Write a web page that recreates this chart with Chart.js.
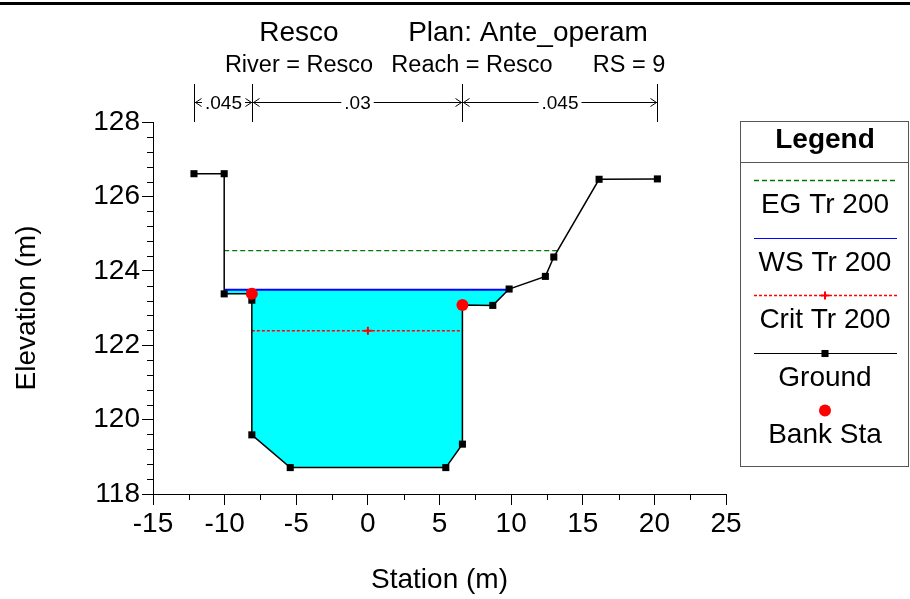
<!DOCTYPE html>
<html>
<head>
<meta charset="utf-8">
<script src="https://cdn.jsdelivr.net/npm/chart.js@4/dist/chart.umd.min.js"></script>
<style>
  html, body { margin: 0; padding: 0; background: #fff; }
  canvas { display: block; }
</style>
</head>
<body>
<canvas id="xs" width="910" height="599"></canvas>
<script>
// cross section
const groundSta  = [-12.14, -10.03, -10.03, -8.1, -8.1, -8.1, -5.42, 5.44, 6.6, 6.6, 8.72, 9.86, 12.39, 12.98, 16.14, 20.21];
const groundElev = [126.61, 126.61, 123.38, 123.38, 123.21, 119.59, 118.71, 118.71, 119.34, 123.08, 123.07, 123.51, 123.85, 124.37, 126.46, 126.47];
const bankSta  = [-8.1, 6.6];
const bankElev = [123.38, 123.08];
const egElev = 124.54;   // EG Tr 200
const wsElev = 123.49;   // WS Tr 200
const critElev = 122.39; // Crit Tr 200
const critMarkSta = 0;
const nBreaks = [-12.14, -8.1, 6.6, 20.21];
const nValues = ['.045', '.03', '.045'];
const xRange = [-15, 25];
const yRange = [118, 128];

const FONT = "'Liberation Sans', Arial, sans-serif";
Chart.defaults.font.family = FONT;
Chart.defaults.color = '#000';

// where a water level meets the ground on both sides of the thalweg
function waterEdges(level) {
  let low = 0;
  groundElev.forEach((e, i) => { if (e < groundElev[low]) low = i; });
  let l = low, r = low;
  while (l > 0 && groundElev[l - 1] < level) l--;
  while (r < groundElev.length - 1 && groundElev[r + 1] < level) r++;
  const cross = (a, b) => {
    const t = (level - groundElev[a]) / (groundElev[b] - groundElev[a]);
    return groundSta[a] + t * (groundSta[b] - groundSta[a]);
  };
  const xl = l > 0 ? cross(l, l - 1) : groundSta[0];
  const xr = r < groundElev.length - 1 ? cross(r, r + 1) : groundSta[groundSta.length - 1];
  return { xl, xr, l, r };
}

const ws = waterEdges(wsElev);
const eg = waterEdges(egElev);
const cr = waterEdges(critElev);

const waterPoly = [{ x: ws.xl, y: wsElev }];
for (let i = ws.l; i <= ws.r; i++) waterPoly.push({ x: groundSta[i], y: groundElev[i] });
waterPoly.push({ x: ws.xr, y: wsElev });

const datasets = [
  {
    label: 'water', data: waterPoly, fill: 'shape', backgroundColor: '#00ffff',
    borderWidth: 0, pointRadius: 0, order: 6, legend: false,
  },
  {
    label: 'EG Tr 200', data: [{ x: eg.xl, y: egElev }, { x: eg.xr, y: egElev }],
    borderColor: '#007a00', borderWidth: 1.2, borderDash: [5, 3], pointRadius: 0, order: 5,
  },
  {
    label: 'WS Tr 200', data: [{ x: ws.xl, y: wsElev }, { x: ws.xr, y: wsElev }],
    borderColor: '#0000ff', borderWidth: 2, pointRadius: 0, order: 4,
  },
  {
    label: 'Crit Tr 200',
    data: [{ x: cr.xl, y: critElev }, { x: critMarkSta, y: critElev }, { x: cr.xr, y: critElev }],
    borderColor: '#ff0000', borderWidth: 1.5, borderDash: [3, 2],
    pointStyle: 'cross', pointRadius: (c) => (c.dataIndex === 1 ? 4 : 0),
    pointBorderColor: '#ff0000', pointBorderWidth: 2, order: 3, legendMark: true,
  },
  {
    label: 'Ground', data: groundSta.map((x, i) => ({ x, y: groundElev[i] })),
    borderColor: '#000', borderWidth: 1.5, pointStyle: 'rect', pointRadius: 5,
    pointBackgroundColor: '#000', pointBorderColor: '#000', pointBorderWidth: 0, order: 2, legendMark: true,
  },
  {
    label: 'Bank Sta', data: bankSta.map((x, i) => ({ x, y: bankElev[i] })),
    showLine: false, pointStyle: 'circle', pointRadius: 6,
    pointBackgroundColor: '#ff0000', pointBorderColor: '#ff0000', pointBorderWidth: 0, order: 1, legendMark: true,
  },
];

// minor ticks, header text, Manning's n bar and the boxed legend
const decor = {
  id: 'decor',
  afterDraw(chart) {
    const { ctx, chartArea } = chart;
    const x = chart.scales.x, y = chart.scales.y;
    ctx.save();

    // top rule
    ctx.fillStyle = '#000';
    ctx.fillRect(0, 2, 910, 3);

    // minor ticks
    ctx.strokeStyle = '#000';
    ctx.lineWidth = 1;
    ctx.beginPath();
    for (let v = xRange[0]; v <= xRange[1] + 1e-6; v += 2.5) {
      if (Math.abs(v % 5) < 1e-6) continue;
      const px = Math.round(x.getPixelForValue(v)) + 0.5;
      ctx.moveTo(px, chartArea.bottom);
      ctx.lineTo(px, chartArea.bottom + 6);
    }
    for (let v = yRange[0]; v <= yRange[1] + 1e-6; v += 0.4) {
      const r = Math.round(v * 10) / 10;
      if (Math.abs(r % 2) < 1e-6) continue;
      const py = Math.round(y.getPixelForValue(r)) + 0.5;
      ctx.moveTo(chartArea.left, py);
      ctx.lineTo(chartArea.left - 6, py);
    }
    ctx.stroke();

    // header
    ctx.fillStyle = '#000';
    ctx.textAlign = 'center';
    ctx.textBaseline = 'middle';
    ctx.font = `28px ${FONT}`;
    ctx.fillText('Resco', 299, 33);
    ctx.fillText('Plan: Ante_operam', 528, 33);
    ctx.font = `23.5px ${FONT}`;
    ctx.fillText('River = Resco', 299, 66);
    ctx.fillText('Reach = Resco', 472, 66);
    ctx.fillText('RS = 9', 629, 66);

    // Manning's n bar
    const barY = 102.5;
    ctx.font = `19px ${FONT}`;
    const bp = nBreaks.map((s) => Math.round(x.getPixelForValue(s)) + 0.5);
    ctx.beginPath();
    bp.forEach((p) => { ctx.moveTo(p, 84); ctx.lineTo(p, chartArea.top); });
    nValues.forEach((n, i) => {
      const a = bp[i], b = bp[i + 1];
      const mid = (a + b) / 2;
      const w = ctx.measureText(n).width;
      ctx.moveTo(a, barY); ctx.lineTo(mid - w / 2 - 3, barY);
      ctx.moveTo(mid + w / 2 + 3, barY); ctx.lineTo(b, barY);
      ctx.moveTo(a + 7, barY - 4); ctx.lineTo(a + 1, barY); ctx.lineTo(a + 7, barY + 4);
      ctx.moveTo(b - 7, barY - 4); ctx.lineTo(b - 1, barY); ctx.lineTo(b - 7, barY + 4);
    });
    ctx.stroke();
    nValues.forEach((n, i) => {
      const mid = (bp[i] + bp[i + 1]) / 2;
      const w = ctx.measureText(n).width;
      ctx.fillStyle = '#fff';
      ctx.fillRect(mid - w / 2 - 2, barY - 9, w + 4, 18);
      ctx.fillStyle = '#000';
      ctx.fillText(n, mid, barY + 1);
    });

    // legend box
    const L = 740.5, T = 121.5, R = 908.5, B = 466.5, cx = 825;
    ctx.strokeStyle = '#555';
    ctx.lineWidth = 1;
    ctx.strokeRect(L, T, R - L, B - T);
    ctx.beginPath();
    ctx.moveTo(L, 162.5); ctx.lineTo(R, 162.5);
    ctx.stroke();
    ctx.fillStyle = '#000';
    ctx.font = `bold 28px ${FONT}`;
    ctx.fillText('Legend', cx, 140);
    ctx.font = `28px ${FONT}`;
    const items = chart.data.datasets.filter((d) => d.legend !== false);
    items.forEach((d, i) => {
      const ly = Math.round(180 + 57.5 * i) + 0.5;
      if (d.showLine !== false) {
        ctx.save();
        ctx.strokeStyle = d.borderColor;
        ctx.lineWidth = d.borderDash ? 1.5 : 1;
        ctx.setLineDash(d.borderDash || []);
        ctx.beginPath();
        ctx.moveTo(754, ly); ctx.lineTo(897, ly);
        ctx.stroke();
        ctx.restore();
      }
      if (d.legendMark) {
        ctx.fillStyle = d.pointBackgroundColor || d.pointBorderColor;
        ctx.strokeStyle = d.pointBorderColor;
        ctx.lineWidth = d.pointBorderWidth;
        Chart.helpers.drawPoint(ctx, {
          pointStyle: d.pointStyle, radius: d.pointStyle === 'cross' ? 4 : d.pointRadius,
          borderWidth: d.pointBorderWidth, rotation: 0,
        }, cx, ly);
      }
      ctx.fillStyle = '#000';
      ctx.fillText(d.label, cx, ly + 25);
    });
    ctx.restore();
  },
};

new Chart(document.getElementById('xs'), {
  type: 'line',
  data: { datasets },
  options: {
    responsive: false,
    animation: false,
    devicePixelRatio: 1,
    events: [],
    layout: { padding: { top: 122, right: 184, bottom: 0, left: 0 } },
    plugins: { legend: { display: false }, tooltip: { enabled: false }, title: { display: false } },
    scales: {
      x: {
        type: 'linear', min: xRange[0], max: xRange[1],
        ticks: { stepSize: 5, font: { size: 28 }, padding: 2, maxRotation: 0 },
        grid: { drawOnChartArea: false, drawTicks: true, tickLength: 11, color: '#000' },
        border: { display: true, color: '#000' },
        title: { display: true, text: 'Station (m)', font: { size: 28 }, padding: { top: 2, bottom: 2 } },
        afterFit: (s) => { s.height = 105; },
      },
      y: {
        type: 'linear', min: yRange[0], max: yRange[1],
        ticks: { stepSize: 2, font: { size: 28 }, padding: 2 },
        grid: { drawOnChartArea: false, drawTicks: true, tickLength: 11, color: '#000' },
        border: { display: true, color: '#000' },
        title: { display: true, text: 'Elevation (m)', font: { size: 28 }, padding: { top: 10, bottom: 2 } },
        afterFit: (s) => { s.width = 153; },
      },
    },
  },
  plugins: [decor],
});
</script>
</body>
</html>
